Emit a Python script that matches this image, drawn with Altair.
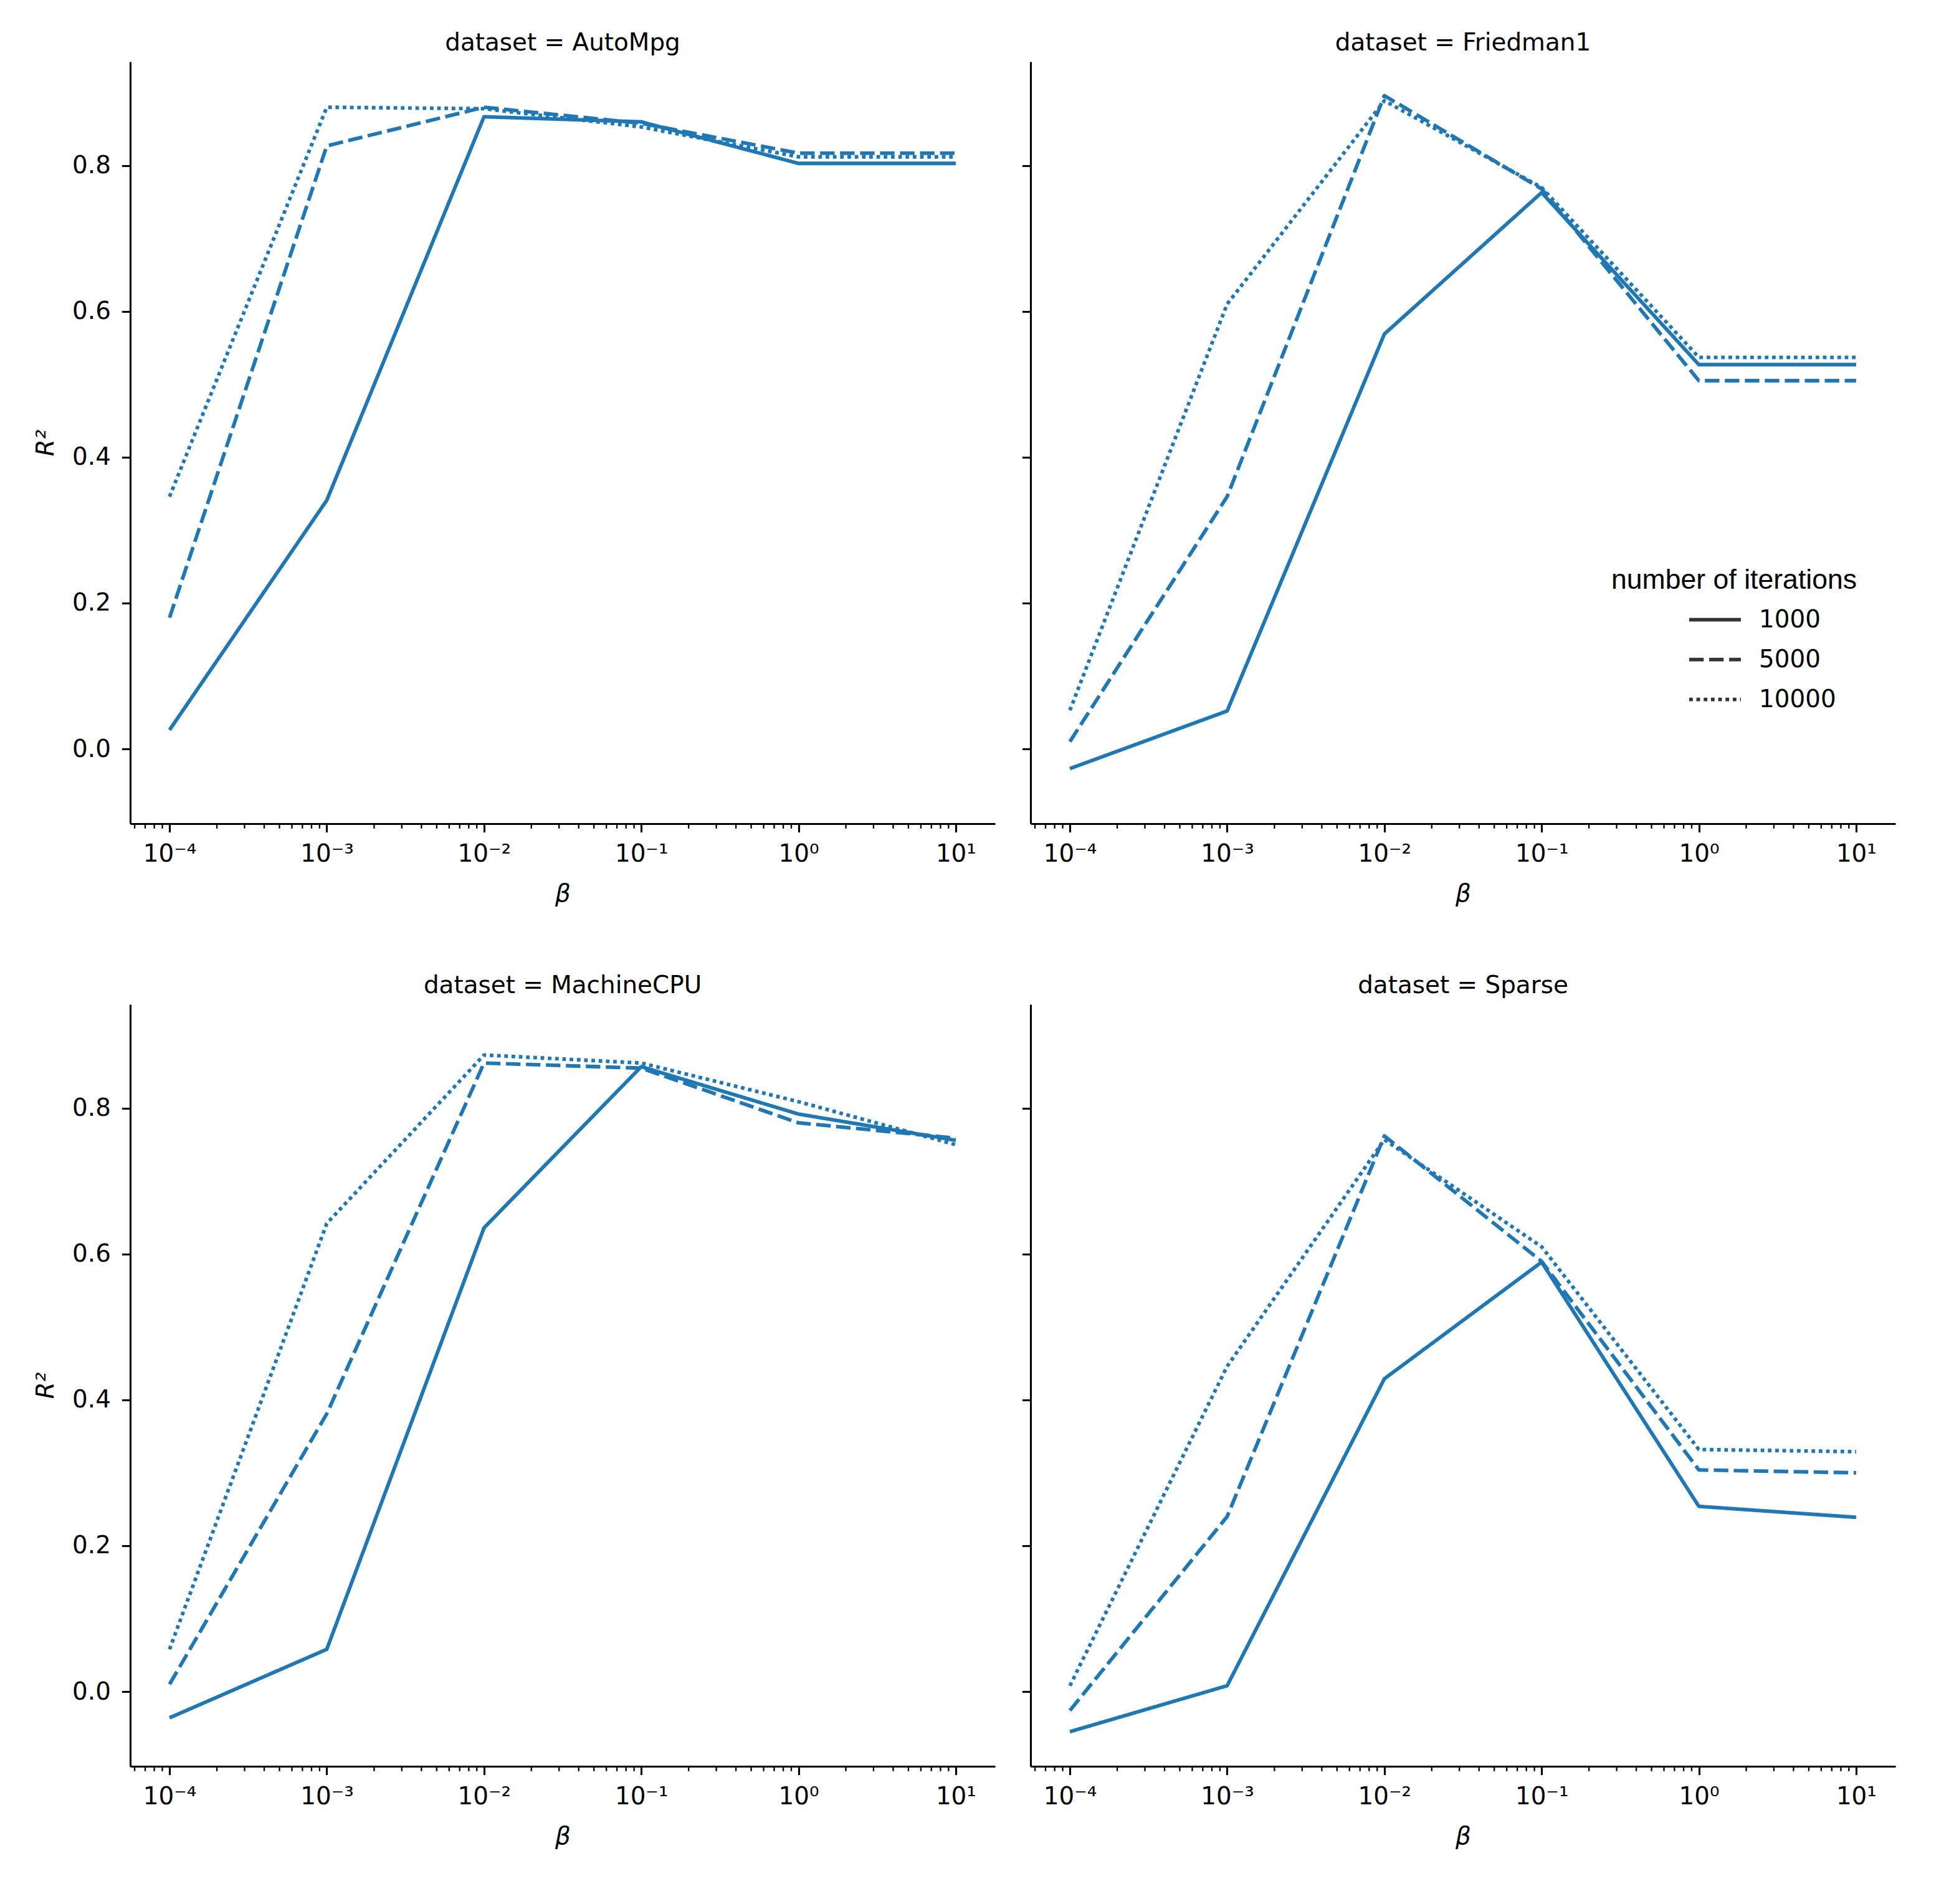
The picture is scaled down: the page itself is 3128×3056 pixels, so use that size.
import json
import altair as alt
import pandas as pd

# ---------------- data ----------------
betas = [1e-4, 1e-3, 1e-2, 1e-1, 1e0, 1e1]
datasets = ["AutoMpg", "Friedman1", "MachineCPU", "Sparse"]
iterations = ["1000", "5000", "10000"]

autompg_1000 = [0.026, 0.341, 0.867, 0.860, 0.803, 0.803]
autompg_5000 = [0.180, 0.827, 0.880, 0.858, 0.817, 0.817]
autompg_10000 = [0.346, 0.880, 0.878, 0.853, 0.812, 0.812]

friedman1_1000 = [-0.027, 0.052, 0.569, 0.763, 0.527, 0.527]
friedman1_5000 = [0.010, 0.346, 0.896, 0.768, 0.505, 0.505]
friedman1_10000 = [0.053, 0.610, 0.889, 0.770, 0.537, 0.537]

machinecpu_1000 = [-0.036, 0.058, 0.636, 0.857, 0.792, 0.756]
machinecpu_5000 = [0.010, 0.381, 0.862, 0.855, 0.780, 0.759]
machinecpu_10000 = [0.058, 0.642, 0.873, 0.862, 0.809, 0.750]

sparse_1000 = [-0.055, 0.008, 0.429, 0.589, 0.254, 0.239]
sparse_5000 = [-0.026, 0.240, 0.762, 0.590, 0.304, 0.300]
sparse_10000 = [0.008, 0.446, 0.757, 0.610, 0.332, 0.329]

x_tick_labels = ["10⁻⁴", "10⁻³", "10⁻²", "10⁻¹", "10⁰", "10¹"]
y_ticks = [0.0, 0.2, 0.4, 0.6, 0.8]

series = {
    "AutoMpg": [autompg_1000, autompg_5000, autompg_10000],
    "Friedman1": [friedman1_1000, friedman1_5000, friedman1_10000],
    "MachineCPU": [machinecpu_1000, machinecpu_5000, machinecpu_10000],
    "Sparse": [sparse_1000, sparse_5000, sparse_10000],
}

rows = []
for ds in datasets:
    for it, vals in zip(iterations, series[ds]):
        for b, v in zip(betas, vals):
            rows.append({"dataset": ds, "iterations": it, "beta": b, "r2": v})
df = pd.DataFrame(rows)

# minor log ticks (axis decoration)
XMIN, XMAX = 10 ** -4.25, 10 ** 1.25
minor_vals = [m * 10.0 ** e for e in range(-5, 2) for m in range(2, 10)
              if XMIN <= m * 10.0 ** e <= XMAX]
minor_df = pd.DataFrame({"m": minor_vals})

# ---------------- styling ----------------
W, H = 1388, 1223
FS = 38.9
LW = 5.83
BLUE = "#1f77b4"
FONT = "DejaVu Sans"

xscale = alt.Scale(type="log", domain=[XMIN, XMAX], nice=False)
yscale = alt.Scale(domain=[-0.1025, 0.9425], nice=False, zero=False)
label_expr = json.dumps(x_tick_labels, ensure_ascii=False) + "[round(log(datum.value)/LN10)+4]"

dash_range = [[1, 0], [4 * LW, 1.5 * LW], [1 * LW, 1 * LW]]

xaxis = alt.Axis(values=betas, labelExpr=label_expr, title="β",
                 titleFontStyle="italic", titleFontWeight="normal",
                 titleFontSize=FS, titleFont=FONT, titlePadding=25,
                 labelFontSize=FS, labelFont=FONT, labelPadding=16,
                 tickSize=13.6, tickWidth=3.1, domainWidth=3.1,
                 labelColor="black", titleColor="black",
                 domainColor="black", tickColor="black",
                 grid=False, labelFlush=False, labelOverlap=False)


def yaxis(first_col):
    return alt.Axis(values=y_ticks, format=".1f",
                    title="R²" if first_col else None,
                    labels=first_col,
                    titleFontStyle="italic", titleFontWeight="normal",
                    titleFontSize=FS, titleFont=FONT, titlePadding=22,
                    labelFontSize=FS, labelFont=FONT, labelPadding=18,
                    tickSize=13.6, tickWidth=3.1, domainWidth=3.1,
                    labelColor="black", titleColor="black",
                    domainColor="black", tickColor="black",
                    grid=False, labelFlush=False, labelOverlap=False)


legend = alt.Legend(
    title="number of iterations", orient="none",
    legendX=2377, legendY=811,
    titleFont="Liberation Sans", titleFontSize=44.6,
    titleFontWeight="normal", titleColor="black",
    titlePadding=10, titleLimit=2000,
    labelFont=FONT, labelFontSize=FS, labelColor="black", labelLimit=1000,
    symbolType="stroke", symbolSize=6889,
    symbolStrokeWidth=LW, symbolStrokeColor="#333333",
    symbolOffset=122, labelOffset=26,
    clipHeight=60, rowPadding=4,
)


def panel(name, first_col):
    base = alt.Chart(df).transform_filter(alt.datum.dataset == name)
    lines = base.mark_line(color=BLUE, strokeWidth=LW, strokeJoin="round").encode(
        x=alt.X("beta:Q", scale=xscale, axis=xaxis),
        y=alt.Y("r2:Q", scale=yscale, axis=yaxis(first_col)),
        strokeDash=alt.StrokeDash(
            "iterations:N", sort=iterations,
            scale=alt.Scale(domain=iterations, range=dash_range),
            legend=legend,
        ),
    )
    minor = alt.Chart(minor_df).mark_rule(color="black", strokeWidth=2.33).encode(
        x=alt.X("m:Q", scale=xscale, axis=xaxis),
        y=alt.value(H),
        y2=alt.value(H + 7.8),
    )
    return alt.layer(lines, minor).properties(
        width=W, height=H,
        title=alt.TitleParams(f"dataset = {name}", fontSize=FS, font=FONT,
                              fontWeight="normal", color="black",
                              baseline="alphabetic", offset=-21, anchor="middle"),
    )


top = alt.hconcat(panel("AutoMpg", True), panel("Friedman1", False), spacing=41)
bottom = alt.hconcat(panel("MachineCPU", True), panel("Sparse", False), spacing=41)
chart = alt.vconcat(top, bottom, spacing=108).properties(
    padding={"left": 46, "top": 42, "right": 5, "bottom": 5},
    background="white",
).configure_view(stroke=None)

chart.save("out.html", embed_options={"renderer": "svg", "actions": False})
